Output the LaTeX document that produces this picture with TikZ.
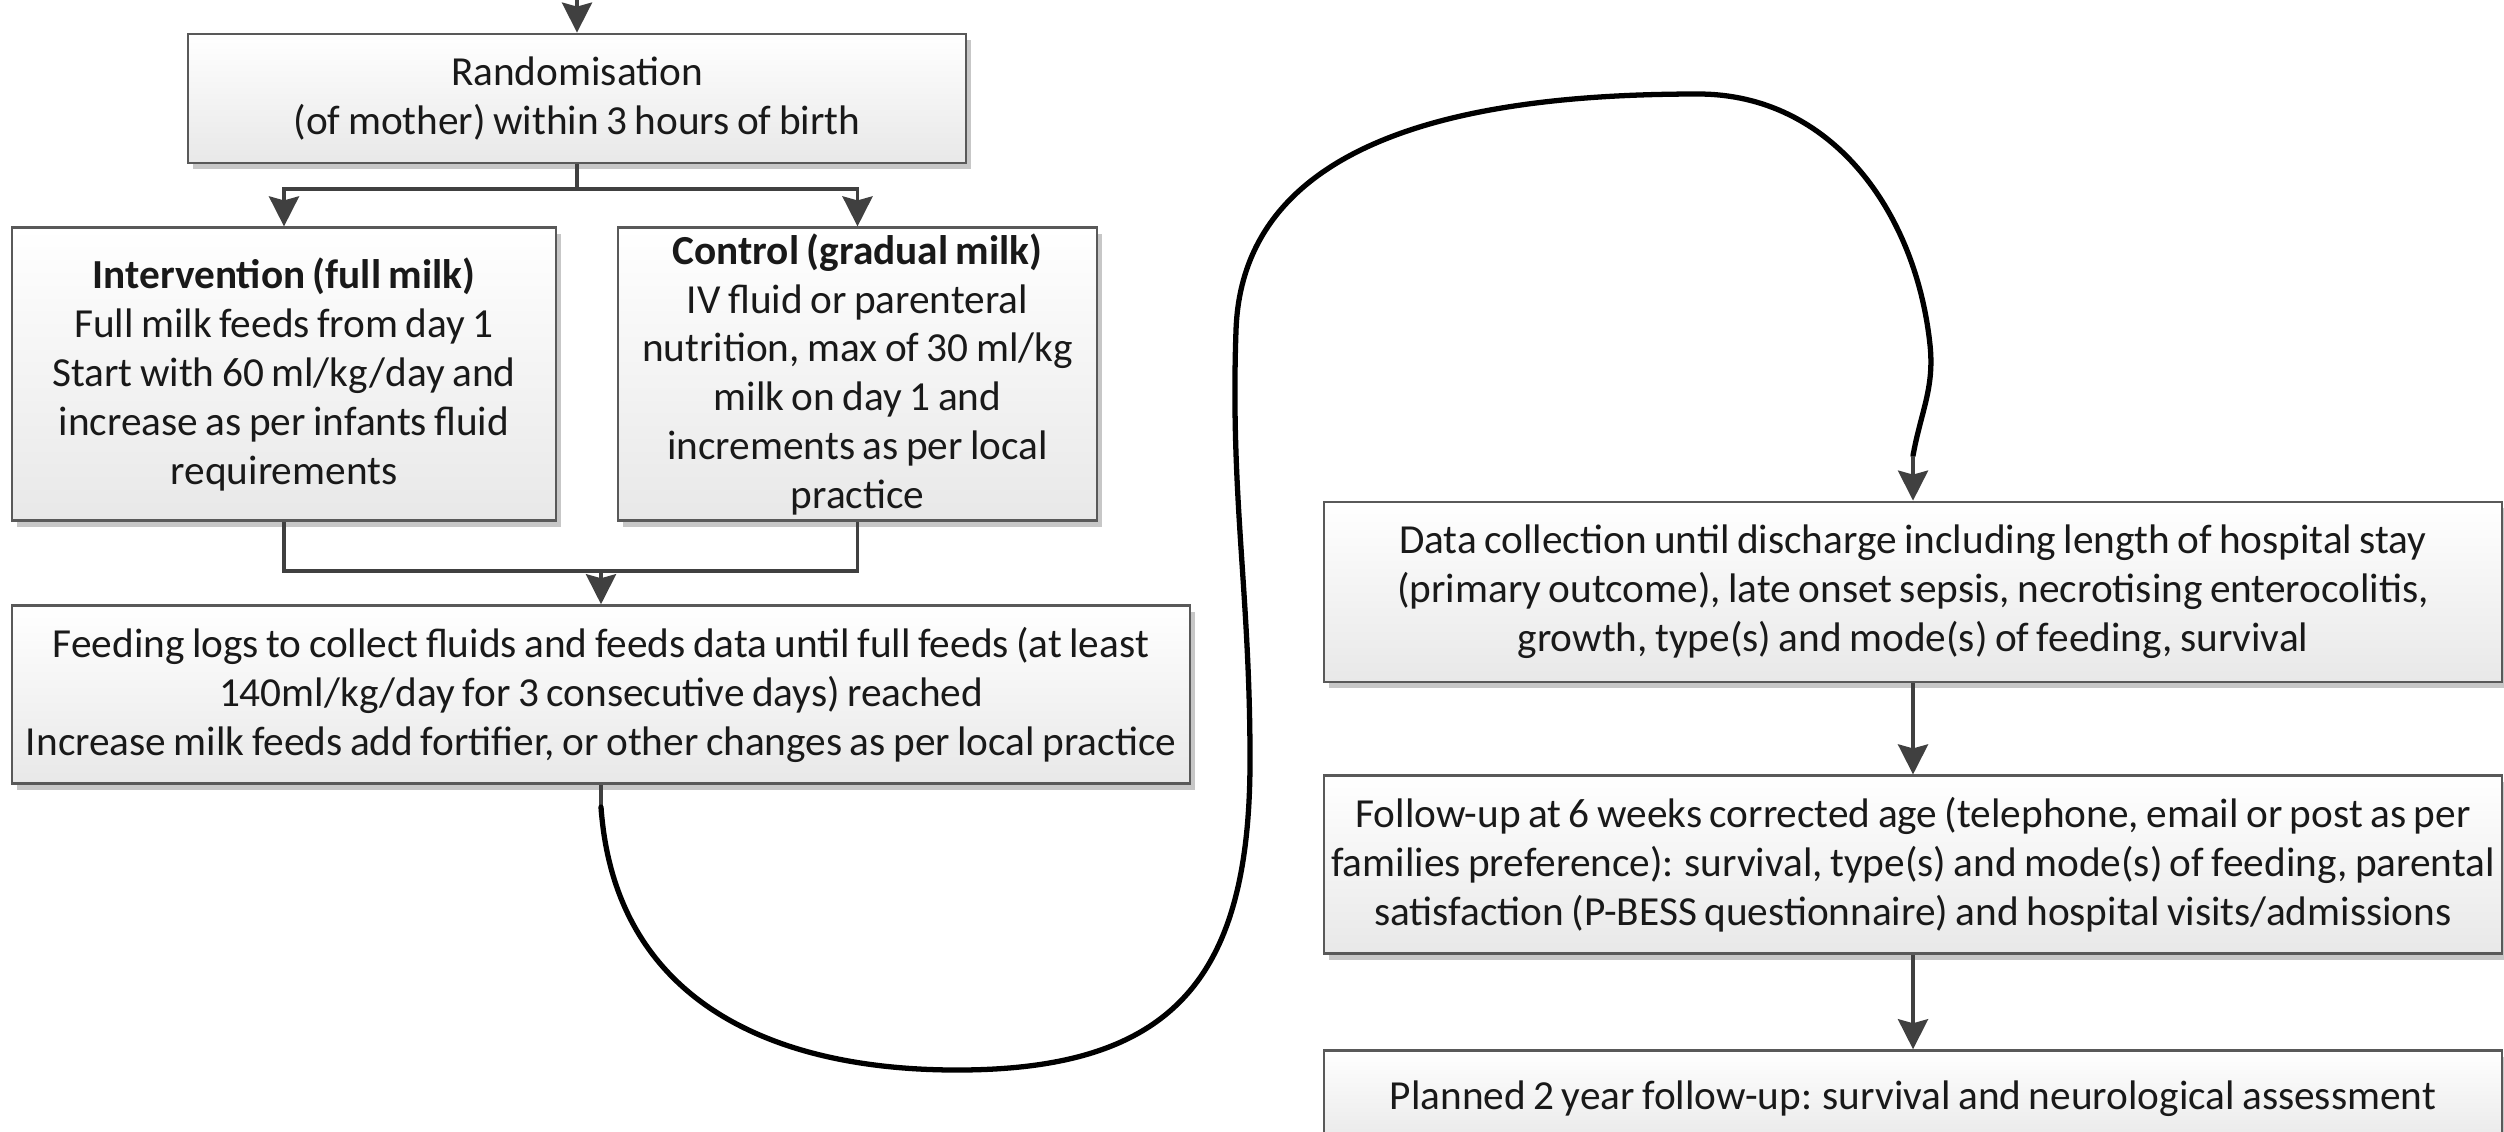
\documentclass[tikz,border=0pt]{standalone}
\usepackage{fontspec}
\setmainfont{Carlito}[WordSpace=0.8]
\usetikzlibrary{arrows.meta, positioning, calc, shadows}

\begin{document}
\begin{tikzpicture}[
    font=\fontsize{11.75}{13.9}\selectfont,
    >={Stealth[length=3mm, width=3mm, inset=0.4mm]},
    block/.style={draw=black!65, line width=0.8pt, align=center, inner sep=0pt,
      top color=white, bottom color=black!9, text=black!90,
      drop shadow={shadow xshift=0.5mm, shadow yshift=-0.6mm, opacity=0.22, fill=black}},
    wide/.style={block, minimum width=117.8mm},
    line/.style={->, draw=black!75, line width=1.1pt},
    handline/.style={line width=1.5pt, black, line cap=round, line join=round}
]

% Frame of the picture
\useasboundingbox (0,0) rectangle (25.04,-11.31);

% Randomisation
\node[block, minimum width=77.8mm, minimum height=12.9mm] (rand) at (5.77,-0.985)
  {Randomisation\\(of mother) within 3 hours of birth};

% The two arms
\node[block, minimum width=54.4mm, minimum height=29.3mm, below=6.2mm of rand, xshift=-29.3mm] (inter)
  {\textbf{Intervention (full milk)}\\Full milk feeds from day 1\\Start with 60 ml/kg/day and\\increase as per infants fluid\\requirements};
\node[block, minimum width=47.9mm, minimum height=29.3mm, below=6.2mm of rand, xshift=28.05mm] (ctrl)
  {\textbf{Control (gradual milk)}\\IV fluid or parenteral\\nutrition, max of 30 ml/kg\\milk on day 1 and\\increments as per local\\practice};

% Feeding logs
\node[wide, minimum height=17.8mm, below right=8.2mm and 0mm of inter.south west] (feed)
  {Feeding logs to collect fluids and feeds data until full feeds (at least\\140ml/kg/day for 3 consecutive days) reached\\Increase milk feeds add fortifier, or other changes as per local practice};

% Right column
\node[wide, minimum height=18mm] (data) at (19.13,-5.92)
  {Data collection until discharge including length of hospital stay\\(primary outcome), late onset sepsis, necrotising enterocolitis,\\growth, type(s) and mode(s) of feeding, survival};
\node[wide, minimum height=17.8mm, below=9.1mm of data] (follow)
  {Follow-up at 6 weeks corrected age (telephone, email or post as per\\families preference): survival, type(s) and mode(s) of feeding, parental\\satisfaction (P-BESS questionnaire) and hospital visits/admissions};
\node[wide, minimum height=9.6mm, below=9.4mm of follow] (plan)
  {Planned 2 year follow-up: survival and neurological assessment};

% Helper points
\coordinate (entry) at ($(rand.north)+(0,0.5)$);
\coordinate (split) at ($(rand.south)+(0,-0.25)$);
\coordinate (merge) at ($(inter.south)+(0,-0.49)$);
\coordinate (c0) at ($(feed.south)+(0,-0.22)$);
\coordinate (cb) at (9.57,-10.70);
\coordinate (cr) at (12.50,-7.60);
\coordinate (cm) at (12.36,-3.30);
\coordinate (cp) at (16.98,-0.94);
\coordinate (cq) at (19.30,-3.45);
\coordinate (c9) at ($(data.north)+(0,0.45)$);

% Connections
\draw[line] (entry) -- (rand);
\draw[line] (rand.south) -- (split) -| (inter.north);
\draw[line] (split) -| (ctrl.north);

\draw[line, -] (inter.south) |- (merge) -| (ctrl.south);
\draw[line] (feed.north |- merge) -- (feed.north);

% Long hand-drawn link to the right column
\draw[line, -] (feed.south) -- (c0);
\draw[handline] (c0) to[out=-86, in=180, looseness=1.1] (cb)
  to[out=0, in=-90, looseness=1.3] (cr)
  to[out=90, in=-92] (cm)
  to[out=88, in=180] (cp)
  to[out=0, in=96] (cq)
  to[out=-84, in=80] (c9);
\draw[line] (c9) -- (data.north);

\draw[line] (data) -- (follow);
\draw[line] (follow) -- (plan);

\end{tikzpicture}
\end{document}
